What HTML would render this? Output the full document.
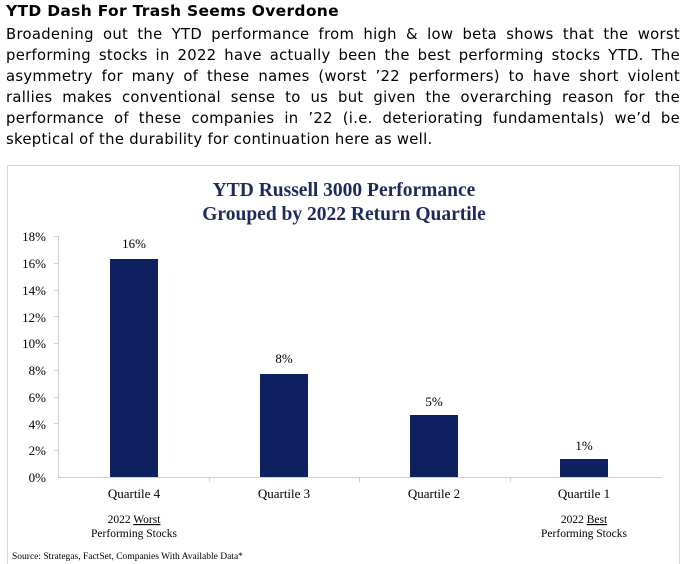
<!DOCTYPE html>
<html><head><style>
body{margin:0;width:684px;height:564px;background:#fff;overflow:hidden;position:relative;font-family:"DejaVu Sans",Verdana,sans-serif;color:#000}
.h{position:absolute;left:6px;top:2px;font-weight:bold;font-size:15.5px;letter-spacing:0.3px}
.p{position:absolute;left:6px;top:24px;width:674px;font-size:14.8px;line-height:21px;text-align:justify;letter-spacing:0.3px}
svg{position:absolute;left:0;top:0}
</style></head><body>
<div class="h">YTD Dash For Trash Seems Overdone</div>
<div class="p">Broadening out the YTD performance from high &amp; low beta shows that the worst performing stocks in 2022 have actually been the best performing stocks YTD. The asymmetry for many of these names (worst ’22 performers) to have short violent rallies makes conventional sense to us but given the overarching reason for the performance of these companies in ’22 (i.e. deteriorating fundamentals) we’d be skeptical of the durability for continuation here as well.</div>
<svg width="684" height="564" font-family="Liberation Serif,serif">
<rect x="7.5" y="165.5" width="672" height="410" fill="none" stroke="#d8d8d8"/>
<text x="344" y="196" text-anchor="middle" font-size="19.5" font-weight="bold" fill="#1f2a5c">YTD Russell 3000 Performance</text>
<text x="344" y="220" text-anchor="middle" font-size="19.5" font-weight="bold" fill="#1f2a5c">Grouped by 2022 Return Quartile</text>
<g font-size="13" fill="#000" text-anchor="end">
<text x="46" y="241">18%</text><text x="46" y="268">16%</text><text x="46" y="295">14%</text><text x="46" y="322">12%</text><text x="46" y="348">10%</text><text x="46" y="375">8%</text><text x="46" y="402">6%</text><text x="46" y="429">4%</text><text x="46" y="455">2%</text><text x="46" y="482">0%</text>
</g>
<g stroke="#d0d0d0"><line x1="58.5" y1="236" x2="58.5" y2="477"/><line x1="58" y1="477.5" x2="662" y2="477.5"/>
<line x1="54" y1="236.5" x2="58" y2="236.5"/><line x1="54" y1="263.5" x2="58" y2="263.5"/><line x1="54" y1="290.5" x2="58" y2="290.5"/><line x1="54" y1="316.5" x2="58" y2="316.5"/><line x1="54" y1="343.5" x2="58" y2="343.5"/><line x1="54" y1="370.5" x2="58" y2="370.5"/><line x1="54" y1="397.5" x2="58" y2="397.5"/><line x1="54" y1="423.5" x2="58" y2="423.5"/><line x1="54" y1="450.5" x2="58" y2="450.5"/>
<line x1="209.5" y1="477" x2="209.5" y2="482"/><line x1="359.5" y1="477" x2="359.5" y2="482"/><line x1="510.5" y1="477" x2="510.5" y2="482"/></g>
<g fill="#0f2060">
<rect x="110" y="259" width="48" height="218"/><rect x="260" y="374" width="48" height="103"/><rect x="410" y="415" width="48" height="62"/><rect x="560" y="459" width="48" height="18"/></g>
<g font-size="13" text-anchor="middle">
<text x="134" y="248">16%</text><text x="284" y="363">8%</text><text x="434" y="406">5%</text><text x="584" y="450">1%</text>
<text x="134" y="498">Quartile 4</text><text x="284" y="498">Quartile 3</text><text x="434" y="498">Quartile 2</text><text x="584" y="498">Quartile 1</text>
<g font-size="11.5"><text x="134" y="523">2022 <tspan text-decoration="underline">Worst</tspan></text><text x="134" y="537">Performing Stocks</text>
<text x="584" y="523">2022 <tspan text-decoration="underline">Best</tspan></text><text x="584" y="537">Performing Stocks</text></g>
</g>
<text x="12" y="559" font-size="9.5">Source: Strategas, FactSet, Companies With Available Data*</text>
</svg>
</body></html>
